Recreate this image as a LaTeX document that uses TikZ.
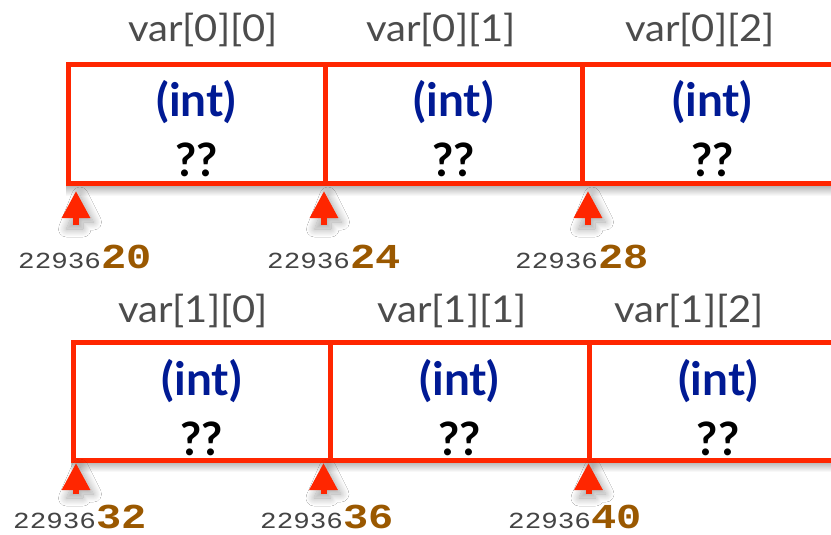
\documentclass[tikz,border=0pt]{standalone}
\usepackage{fontspec}
\setmainfont{Lato}
\newfontfamily\addrfont[FakeStretch=1.2]{Liberation Mono}
\newfontfamily\varfont[FakeStretch=1.08]{Lato}
\usetikzlibrary{arrows.meta,shadows.blur}
\definecolor{boxred}{HTML}{FF2600}
\definecolor{typeblue}{HTML}{001A94}
\definecolor{labelgray}{HTML}{4C4C4C}
\definecolor{addrgray}{HTML}{444444}
\definecolor{addrbrown}{HTML}{9A5800}
\begin{document}
\begin{tikzpicture}[x=1pt,y=-1pt,
  cell/.style={draw=boxred, line width=5pt, inner sep=0pt, outer sep=0pt},
  rowshadow/.style={top color=black!30, bottom color=white, draw=none},
  ptrshadow/.style={blur shadow={shadow xshift=4pt, shadow yshift=-4pt, shadow blur radius=8pt, shadow blur steps=20, shadow opacity=35}},
  typetext/.style={anchor=base, text=typeblue, font=\fontsize{46}{46}\selectfont\bfseries, inner sep=0pt},
  valtext/.style={anchor=base, text=black, font=\fontsize{46}{46}\selectfont\bfseries, inner sep=0pt},
  vartext/.style={anchor=base, text=labelgray, font=\fontsize{37}{37}\varfont, inner sep=0pt},
  addrtext/.style={anchor=base west, inner sep=0pt, text depth=0pt},
  ptr/.style={draw=boxred, line width=6pt, -{Triangle[width=27pt,length=27pt]}}
]
\clip (0,0) rectangle (831,535);
\fill[white] (0,0) rectangle (831,535);
\newcommand{\addr}[1]{{\color{addrgray}\fontsize{23}{23}\addrfont 22936}{\color{addrbrown}\fontsize{35}{35}\addrfont\bfseries #1}}

% soft shadows under the rows
\shade[rowshadow] (66,185) rectangle (845,196);
\shade[rowshadow] (71,461.5) rectangle (849,472);

% row 0 cells
\node[cell, minimum width=257pt, minimum height=119pt] (c00) at (196.5,124) {};
\node[cell, minimum width=257.5pt, minimum height=119pt] (c01) at (453.75,124) {};
\node[cell, minimum width=260pt, minimum height=119pt] (c02) at (712.5,124) {};
% row 1 cells
\node[cell, minimum width=256.5pt, minimum height=117.5pt] (c10) at (201.75,401.25) {};
\node[cell, minimum width=259pt, minimum height=117.5pt] (c11) at (459.5,401.25) {};
\node[cell, minimum width=258pt, minimum height=117.5pt] (c12) at (718,401.25) {};

% cell texts
\foreach \c in {c00,c01,c02}{
  \node[typetext] (\c t) at ([yshift=7pt]\c.center) {(int)};
  \node[valtext] (\c v) at ([yshift=-52pt]\c.center) {??};
}
\foreach \c in {c10,c11,c12}{
  \node[typetext] (\c t) at ([yshift=6pt]\c.center) {(int)};
  \node[valtext] (\c v) at ([yshift=-54pt]\c.center) {??};
}

% variable names
\node[vartext] (n00) at (203,42) {var[0][0]};
\node[vartext] (n01) at (441,42) {var[0][1]};
\node[vartext] (n02) at (700,42) {var[0][2]};
\node[vartext] (n10) at (193,322) {var[1][0]};
\node[vartext] (n11) at (452,322) {var[1][1]};
\node[vartext] (n12) at (689,322) {var[1][2]};

% pointer arrows
\coordinate (p00) at (76,225);   \coordinate (q00) at (76,191);
\coordinate (p01) at (324,225);  \coordinate (q01) at (324,191);
\coordinate (p02) at (588,225);  \coordinate (q02) at (588,191);
\coordinate (p10) at (76,494);   \coordinate (q10) at (76,463);
\coordinate (p11) at (323.5,494);\coordinate (q11) at (323.5,463);
\coordinate (p12) at (588.5,494);\coordinate (q12) at (588.5,463);
\foreach \k in {00,01,02,10,11,12}{
  \path[ptrshadow] (q\k) -- ++(13.5,27) -- ++(-10.5,0) |- (p\k) -- ++(-3,0) |- ++(-10.5,0) -- cycle;
  \draw[ptr] (p\k) -- (q\k);
}

% addresses
\node[addrtext] (a00) at (18,268) {\addr{20}};
\node[addrtext] (a01) at (267,268) {\addr{24}};
\node[addrtext] (a02) at (515,268) {\addr{28}};
\node[addrtext] (a10) at (13,528) {\addr{32}};
\node[addrtext] (a11) at (260,528) {\addr{36}};
\node[addrtext] (a12) at (508,528) {\addr{40}};
\end{tikzpicture}
\end{document}
